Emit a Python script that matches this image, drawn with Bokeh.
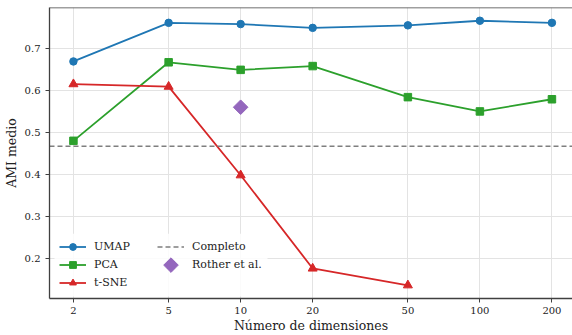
import math

from bokeh.plotting import figure
from bokeh.models import (Range1d, FixedTicker, Span, Legend, LegendItem,
                          BasicTickFormatter, LinearScale, BoxAnnotation)
from bokeh.embed import file_html
from bokeh.resources import INLINE

# Mean AMI per embedding dimension
dims = [2, 5, 10, 20, 50, 100, 200]
umap_ami = [0.670, 0.762, 0.759, 0.750, 0.756, 0.767, 0.762]
pca_ami = [0.481, 0.668, 0.650, 0.659, 0.585, 0.551, 0.580]
tsne_dims = [2, 5, 10, 20, 50]
tsne_ami = [0.616, 0.610, 0.399, 0.177, 0.137]
rother_dims = [10]
rother_ami = [0.561]
completo_ami = 0.468
y_ticks = [0.2, 0.3, 0.4, 0.5, 0.6, 0.7]

FONT = "DejaVu Serif"
TEXT = "#222222"
SPINE = "#404040"
C_UMAP, C_PCA, C_TSNE = "#1f77b4", "#2ca02c", "#d62728"
C_FULL, C_ROTHER = "#7f7f7f", "#9467bd"

W, H = 572, 335
BL, BR, BT, BB = 49, 0, 7, 36
FW, FH = W - BL - BR, H - BT - BB

# ranges with a 5% margin around the data (log on x)
lx0, lx1 = math.log10(min(dims)), math.log10(max(dims))
lpad = 0.05 * (lx1 - lx0)
x_range = Range1d(10 ** (lx0 - lpad), 10 ** (lx1 + 0.86 * lpad))
all_y = umap_ami + pca_ami + tsne_ami + rother_ami + [completo_ami]
ypad = 0.05 * (max(all_y) - min(all_y))
y_range = Range1d(min(all_y) - ypad, max(all_y) + ypad)

p = figure(width=W, height=H, x_axis_type="log",
           x_range=x_range, y_range=y_range,
           output_backend="svg", toolbar_location=None,
           min_border_left=BL, min_border_right=BR,
           min_border_top=BT, min_border_bottom=BB)
p.outline_line_color = None
p.background_fill_color = "white"
p.border_fill_color = "white"
# linear pixel ranges over the frame, used for the legend backdrop and key
p.extra_x_ranges = {"frame_px": Range1d(0, FW)}
p.extra_y_ranges = {"frame_px": Range1d(0, FH)}
p.extra_x_scales = {"frame_px": LinearScale()}
p.extra_y_scales = {"frame_px": LinearScale()}

# axes
p.xaxis.ticker = FixedTicker(ticks=dims, minor_ticks=[])
p.xaxis.formatter = BasicTickFormatter()
p.yaxis.ticker = FixedTicker(ticks=y_ticks, minor_ticks=[])
for ax in (p.xaxis[0], p.yaxis[0]):
    ax.axis_line_color = SPINE
    ax.axis_line_width = 1.3
    ax.major_tick_line_color = SPINE
    ax.major_tick_line_width = 1
    ax.major_tick_out = 4
    ax.major_tick_in = 0
    ax.minor_tick_line_color = None
    ax.major_label_text_font = FONT
    ax.major_label_text_font_size = "10px"
    ax.major_label_text_color = TEXT
    ax.axis_label_text_font = FONT
    ax.axis_label_text_font_size = "12.5px"
    ax.axis_label_text_font_style = "normal"
    ax.axis_label_text_color = TEXT
p.xaxis.axis_label = "Número de dimensiones"
p.yaxis.axis_label = "AMI medio"
p.xaxis.major_label_standoff = 4
p.xaxis.axis_label_standoff = 1
p.yaxis.major_label_standoff = 5
p.yaxis.axis_label_standoff = 3

p.xgrid.grid_line_color = "#e3e3e3"
p.ygrid.grid_line_color = "#e3e3e3"
p.xgrid.grid_line_width = 1
p.ygrid.grid_line_width = 1

# top spine
p.add_layout(Span(location=y_range.end, dimension="width",
                  line_color=SPINE, line_width=1.5))

# legend geometry (frame pixels): two columns filled top to bottom
LEG_X, LEG_Y, PAD, GAP = 10, 7, 5, 1
GW, GH, STAND, LW_ = 27, 17, 8, 62
key_x = [LEG_X + GW + STAND + LW_ + GAP + GW / 2]
key_y = [LEG_Y + GH + GAP + GH / 2]

# white backdrop behind the legend, above the grid
p.add_layout(BoxAnnotation(
    left=LEG_X - PAD, right=key_x[0] + GW / 2 + STAND + 70 + PAD,
    bottom=LEG_Y - PAD, top=LEG_Y + 3 * GH + 2 * GAP + PAD,
    x_range_name="frame_px", y_range_name="frame_px",
    fill_color="white", fill_alpha=0.85, line_color=None,
    level="underlay"))

# series
lw = 1.8
u_l = p.line(dims, umap_ami, line_color=C_UMAP, line_width=lw)
u_m = p.scatter(dims, umap_ami, marker="circle", size=7.5, color=C_UMAP)
pc_l = p.line(dims, pca_ami, line_color=C_PCA, line_width=lw)
pc_m = p.scatter(dims, pca_ami, marker="square", size=7.5, color=C_PCA)
t_l = p.line(tsne_dims, tsne_ami, line_color=C_TSNE, line_width=lw)
t_m = p.scatter(tsne_dims, tsne_ami, marker="triangle", size=9, color=C_TSNE)

# full-dimensional reference level, across the whole x range
full_l = p.line([x_range.start, x_range.end], [completo_ami, completo_ami],
                line_color=C_FULL, line_width=1.6, line_dash="5 3")

r_m = p.scatter(rother_dims, rother_ami, marker="square", angle=math.pi / 4,
                size=10.3, color=C_ROTHER)

# rotated-square key for "Rother et al." (second column, second row)
p.scatter(key_x, key_y, x_range_name="frame_px", y_range_name="frame_px",
          marker="square", angle=math.pi / 4, size=10.3, color=C_ROTHER)

legend = Legend(
    items=[LegendItem(label="UMAP", renderers=[u_l, u_m]),
           LegendItem(label="PCA", renderers=[pc_l, pc_m]),
           LegendItem(label="t-SNE", renderers=[t_l, t_m]),
           LegendItem(label="Completo", renderers=[full_l]),
           LegendItem(label="Rother et al.", renderers=[r_m])],
    location=(LEG_X, LEG_Y), orientation="vertical", ncols=2,
    padding=PAD, margin=0, spacing=GAP,
    glyph_width=GW, glyph_height=GH, label_height=GH,
    label_width=LW_, label_standoff=STAND,
    label_text_font=FONT, label_text_font_size="11px",
    label_text_color=TEXT,
    background_fill_alpha=0.0, border_line_color=None)
p.add_layout(legend)

open("out.html", "w").write(file_html(p, INLINE))
